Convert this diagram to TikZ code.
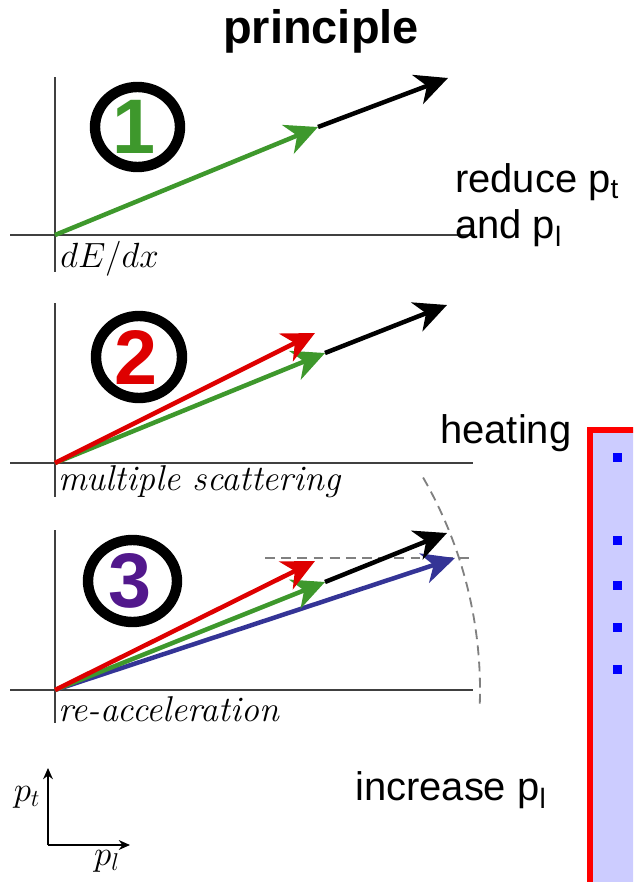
\documentclass[tikz,border=0pt]{standalone}
\usepackage{fontspec}
\newfontfamily\arial{Liberation Sans}
\usetikzlibrary{arrows.meta}
\definecolor{vgreen}{RGB}{62,152,44}
\definecolor{vred}{RGB}{222,0,0}
\definecolor{vblue}{RGB}{52,52,150}
\definecolor{vpurple}{RGB}{82,24,140}
\definecolor{boxfill}{RGB}{204,204,255}

\begin{document}
\begin{tikzpicture}[x=0.025cm, y=-0.025cm, >=Stealth,
      axis/.style={draw=black!75, line width=1.1pt},
      vec/.style={line width=3.2pt, -{Stealth[length=23pt, width=22pt, inset=7pt]}},
      ring/.style={draw, line width=7.4pt},
      digit/.style={font=\arial\bfseries\fontsize{55}{55}\selectfont, inner sep=0pt},
      plbl/.style={font=\fontsize{25.5}{30}\selectfont\itshape, inner sep=0pt, anchor=base west},
      txt/.style={font=\arial\fontsize{28.4}{34}\selectfont, inner sep=0pt, anchor=base west},
      bul/.style={fill=blue, minimum size=6.4pt, inner sep=0pt}]

    % fixed frame, also cuts the box at the page edge
    \clip (0,0) rectangle (633,882);

    \node[font=\arial\bfseries\fontsize{33.4}{40}\selectfont, inner sep=0pt, anchor=base]
        (title) at (321,43) {principle};

    % Panel 1: energy loss
    \coordinate (o1) at (55,235);
    \coordinate (g1) at (318,127);
    \coordinate (k1) at (448,78);
    \draw[axis] (55,77) -- (55,272);
    \draw[axis] (10,235) -- (475,235);
    \draw[ring] (137.5,127) ellipse [x radius=42.5, y radius=40];
    \node[digit, text=vgreen] (n1) at (134,127) {1};
    \draw[vec, vgreen] (o1) -- (g1);
    \draw[vec, black] (g1) -- (k1);
    \node[plbl, font=\fontsize{30}{32}\selectfont] (l1) at (60,267) {$dE/dx$};

    % Panel 2: multiple scattering
    \coordinate (o2) at (55,463);
    \coordinate (g2) at (325,353);
    \coordinate (r2) at (315,333);
    \coordinate (k2) at (447,305);
    \draw[axis] (55,303) -- (55,497);
    \draw[axis] (10,463) -- (473,463);
    \draw[ring] (139,357) ellipse [x radius=43, y radius=41];
    \node[digit, text=vred] (n2) at (136,357) {2};
    \draw[vec, vgreen] (o2) -- (g2);
    \draw[vec, black] (g2) -- (k2);
    \draw[vec, vred] (o2) -- (r2);
    \node[plbl] (l2) at (58,490) {multiple scattering};

    % Panel 3: re-acceleration
    \coordinate (o3) at (55,690);
    \coordinate (g3) at (325,582);
    \coordinate (r3) at (315,561);
    \coordinate (k3) at (447,533);
    \coordinate (b3) at (455,558);
    \draw[axis] (55,530) -- (55,723);
    \draw[axis] (10,690) -- (473,690);
    \draw[gray, line width=1.3pt, dash pattern=on 7pt off 4.5pt] (265,558) -- (473,558);
    \draw[gray, line width=1.3pt, dash pattern=on 7pt off 4.5pt]
        (o3) ++(-30:425) arc[start angle=-30, end angle=2, radius=425];
    \draw[ring] (132.5,581) ellipse [x radius=44.5, y radius=41];
    \node[digit, text=vpurple] (n3) at (130,581) {3};
    \draw[vec, vblue] (o3) -- (b3);
    \draw[vec, vgreen] (o3) -- (g3);
    \draw[vec, black] (g3) -- (k3);
    \draw[vec, vred] (o3) -- (r3);
    \node[plbl] (l3) at (58,721) {re-acceleration};

    % small p_l / p_t axes
    \coordinate (ax) at (48,845);
    \coordinate (axt) at (48,768);
    \coordinate (axl) at (130,845);
    \draw[line width=1pt, -{Stealth[length=8pt, width=7pt]}] (ax) -- (axt);
    \draw[line width=1pt, -{Stealth[length=8pt, width=7pt]}] (ax) -- (axl);
    \node[font=\fontsize{26}{30}\selectfont, inner sep=0pt] (pt) at (27,797) {$p_t$};
    \node[font=\fontsize{26}{30}\selectfont, inner sep=0pt] (pl) at (107,861) {$p_l$};

    % effect labels
    \node[txt] (reduce) at (455,192) {reduce p\textsubscript{t}};
    \node[txt] (andpl)  at (455,238) {and p\textsubscript{l}};
    \node[txt] (heat)   at (440,443) {heating};
    \node[txt] (incr)   at (355,800) {increase p\textsubscript{l}};

    % bullet box at the right edge
    \draw[red, line width=3.6pt, fill=boxfill] (590,430) rectangle (720,960);
    \node[bul] (bu1) at (617,457) {};
    \node[bul] (bu2) at (617,540) {};
    \node[bul] (bu3) at (617,585) {};
    \node[bul] (bu4) at (617,627) {};
    \node[bul] (bu5) at (617,669) {};

    \end{tikzpicture}
\end{document}
